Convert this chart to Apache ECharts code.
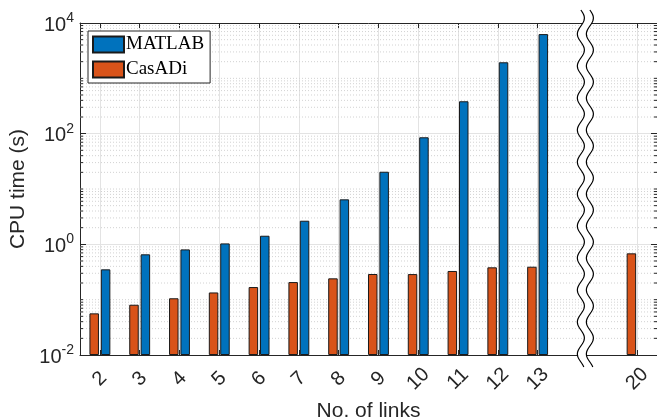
<!DOCTYPE html>
<html>
<head>
<meta charset="utf-8">
<script src="https://cdn.jsdelivr.net/npm/echarts@6/dist/echarts.min.js"></script>
<style>
  html, body { margin: 0; padding: 0; background: #fff; }
  #chart { width: 657px; height: 420px; }
</style>
</head>
<body>
<div id="chart"></div>
<script>
// number of links (x categories)
const links = [2, 3, 4, 5, 6, 7, 8, 9, 10, 11, 12, 13, 20]
// CPU time in seconds
const matlabTime = [0.353, 0.66, 0.81, 1.04, 1.43, 2.67, 6.5, 20.5, 86, 385, 1950, 6300, null]
const casadiTime = [0.0566, 0.081, 0.106, 0.135, 0.169, 0.208, 0.243, 0.291, 0.29, 0.33, 0.384, 0.394, 0.687]
// y range (labels every second power of ten)
const yMin = 0.01
const yMax = 10000

// the axis is broken after 13: 20 sits two and a half slots further on
const slot = n => (n <= 13 ? n : 15.5)
const slotLabel = v => (v === 15.5 ? '20' : String(v))
const tickSlots = links.map(slot)
const breakAt = 14.2

// minor log grid (2..9 x 10^k and the odd decades)
const minorVals = []
for (let e = -2; e < 4; e++) {
	for (let m = 1; m <= 9; m++) {
		if (m === 1 && e % 2 === 0) continue
		minorVals.push(m * Math.pow(10, e))
	}
}

const axisColor = '#262626'
const font = 'Liberation Sans, Arial, sans-serif'

const chart = echarts.init(document.getElementById('chart'))

function minorGrid(params, api) {
	const cs = params.coordSys
	const y = api.coord([2, api.value(0)])[1]
	return {
		type: 'group',
		children: [
			{
				type: 'line',
				shape: { x1: cs.x, y1: y, x2: cs.x + cs.width, y2: y },
				style: { stroke: '#d2d2d2', lineWidth: 1, lineDash: [1, 2] }
			},
			{
				type: 'line',
				shape: { x1: cs.x, y1: y, x2: cs.x + 3, y2: y },
				style: { stroke: axisColor, lineWidth: 1 }
			},
			{
				type: 'line',
				shape: { x1: cs.x + cs.width - 3, y1: y, x2: cs.x + cs.width, y2: y },
				style: { stroke: axisColor, lineWidth: 1 }
			}
		]
	}
}

function axisBreak(params, api) {
	const cs = params.coordSys
	const cx = api.coord([api.value(0), 1])[0]
	const top = cs.y - 13
	const bottom = cs.y + cs.height + 12
	const amp = 3.5
	const period = 32
	const left = []
	const right = []
	for (let y = top; y <= bottom; y += 1) {
		const dx = amp * Math.sin((2 * Math.PI * (y - top)) / period)
		left.push([cx - 4.5 + dx, y])
		right.push([cx + 4.5 + dx, y])
	}
	return {
		type: 'group',
		children: [
			{
				type: 'polygon',
				shape: { points: left.concat(right.slice().reverse()) },
				style: { fill: '#fff', stroke: null }
			},
			{ type: 'polyline', shape: { points: left }, style: { stroke: '#000', lineWidth: 1.2, fill: null } },
			{ type: 'polyline', shape: { points: right }, style: { stroke: '#000', lineWidth: 1.2, fill: null } }
		]
	}
}

const xBase = {
	type: 'value',
	min: 1.5,
	max: 16,
	axisLine: { show: true, lineStyle: { color: axisColor, width: 1 } },
	axisTick: { show: true, inside: true, length: 5, customValues: tickSlots, lineStyle: { color: axisColor } }
}
const yBase = {
	type: 'log',
	logBase: 10,
	min: yMin,
	max: yMax,
	interval: 2,
	startValue: yMin,
	axisLine: { show: true, lineStyle: { color: axisColor, width: 1 } },
	axisTick: { show: true, inside: true, length: 6, lineStyle: { color: axisColor } }
}

chart.setOption({
	animation: false,
	textStyle: { fontFamily: font },
	grid: { left: 80, right: 0, top: 23, bottom: 65, outerBoundsMode: 'none' },
	legend: {
		data: ['MATLAB', 'CasADi'],
		orient: 'vertical',
		left: 88,
		top: 31,
		padding: [4, 6, 4, 4],
		itemGap: 6,
		itemWidth: 31,
		itemHeight: 16,
		icon: 'rect',
		backgroundColor: '#fff',
		borderColor: axisColor,
		borderWidth: 1,
		textStyle: { fontFamily: 'Liberation Serif, DejaVu Serif, serif', fontSize: 19, color: '#000', padding: [0, 0, 0, -3] }
	},
	xAxis: [
		Object.assign({}, xBase, {
			position: 'bottom',
			name: 'No. of links',
			nameLocation: 'middle',
			nameGap: 43,
			nameTextStyle: { fontSize: 21, color: axisColor },
			axisLabel: {
				customValues: tickSlots,
				formatter: slotLabel,
				rotate: 45,
				align: 'center',
				verticalAlign: 'middle',
				fontSize: 20,
				color: axisColor,
				margin: 24
			},
			splitLine: { show: true, lineStyle: { color: '#e3e3e3', width: 1 } }
		}),
		Object.assign({}, xBase, {
			position: 'top',
			axisLabel: { show: false },
			splitLine: { show: false }
		})
	],
	yAxis: [
		Object.assign({}, yBase, {
			position: 'left',
			name: 'CPU time (s)',
			nameLocation: 'middle',
			nameGap: 47,
			nameTextStyle: { fontSize: 21, color: axisColor },
			axisLabel: {
				color: axisColor,
				margin: 6,
				formatter: v => '{b|10}{s|' + Math.round(Math.log10(v)) + '}',
				rich: {
					b: { fontSize: 20, color: axisColor, fontFamily: font, verticalAlign: 'bottom' },
					s: { fontSize: 14, color: axisColor, fontFamily: font, verticalAlign: 'bottom', padding: [0, 0, 10, 0] }
				}
			},
			splitLine: { show: true, lineStyle: { color: '#e3e3e3', width: 1 } }
		}),
		Object.assign({}, yBase, {
			position: 'right',
			axisLabel: { show: false },
			splitLine: { show: false }
		})
	],
	series: [
		{
			name: 'CasADi',
			type: 'bar',
			barWidth: 9.5,
			barGap: '20%',
			itemStyle: { color: '#D95319', borderColor: '#1a1a1a', borderWidth: 1 },
			data: links.map((n, i) => [slot(n), casadiTime[i]]),
			z: 3
		},
		{
			name: 'MATLAB',
			type: 'bar',
			barWidth: 9.5,
			barGap: '20%',
			itemStyle: { color: '#0072BD', borderColor: '#1a1a1a', borderWidth: 1 },
			data: links.map((n, i) => [slot(n), matlabTime[i]]),
			z: 3
		},
		{
			type: 'custom',
			renderItem: minorGrid,
			data: minorVals.map(v => [v]),
			encode: { y: 0 },
			silent: true,
			z: 1
		},
		{
			type: 'custom',
			renderItem: axisBreak,
			data: [[breakAt]],
			encode: { x: 0 },
			clip: false,
			silent: true,
			z: 10
		}
	]
})
</script>
</body>
</html>
